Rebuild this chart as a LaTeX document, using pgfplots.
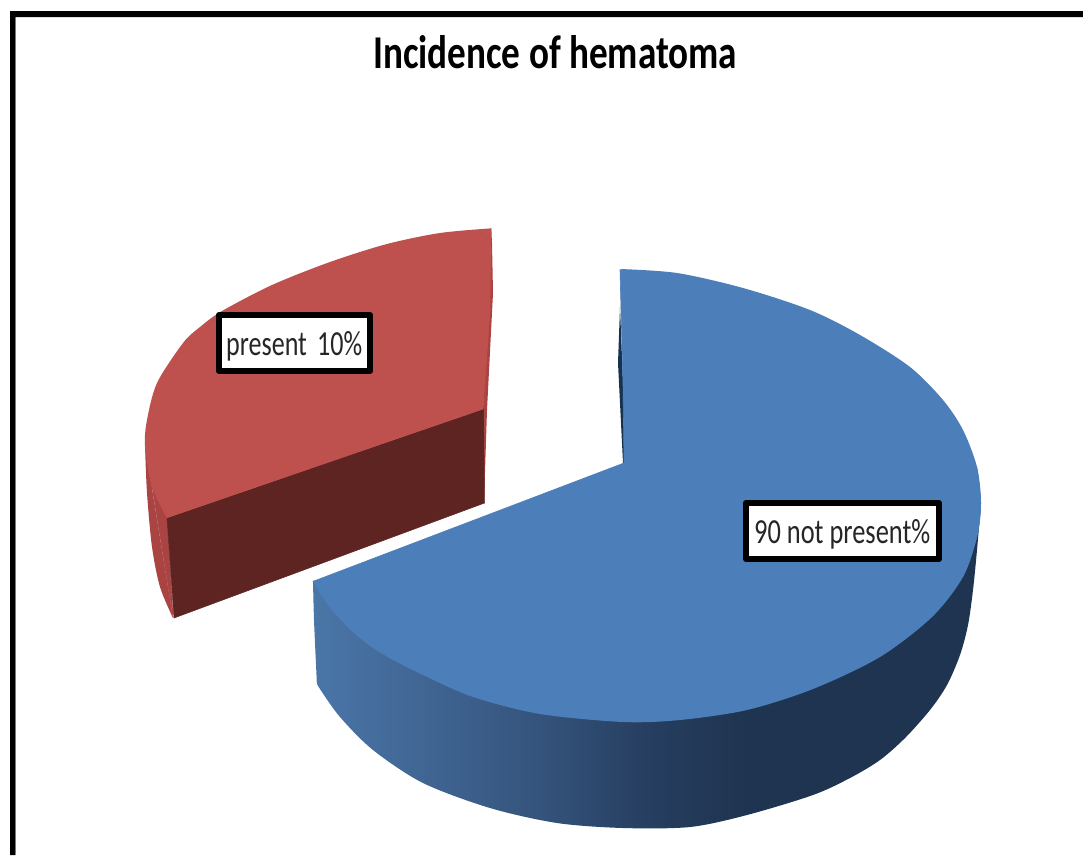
\documentclass[border=0pt]{standalone}
\usepackage{fontspec}
\setmainfont{Carlito}
\usepackage{graphicx}
\usepackage{pgfplots}
\pgfplotsset{compat=1.18}
\definecolor{bluetop}{RGB}{76,126,186}
\definecolor{redtop}{RGB}{190,80,77}
\definecolor{redside}{RGB}{170,68,66}
\definecolor{reddark}{RGB}{93,36,33}
\definecolor{bluein}{RGB}{22,50,80}
\definecolor{bsa}{RGB}{74,118,168}
\definecolor{bsb}{RGB}{62,98,143}
\definecolor{bsc}{RGB}{52,82,122}
\definecolor{bsd}{RGB}{38,62,96}
\definecolor{bse}{RGB}{31,52,80}
\pgfdeclarehorizontalshading{blueside}{100bp}{color(0bp)=(bsa); color(25bp)=(bsa); color(35bp)=(bsb); color(42.5bp)=(bsc); color(50bp)=(bsd); color(57.5bp)=(bse); color(75bp)=(bse); color(100bp)=(bse)}
\begin{document}
\begin{tikzpicture}
\begin{axis}[
  hide axis, scale only axis, width=1083pt, height=855pt,
  xmin=0, xmax=1083, ymin=0, ymax=855, y dir=reverse]
% page
\addplot[draw=none, fill=white] coordinates {(0,0) (1083,0) (1083,855) (0,855)} -- cycle;
% frame
\addplot[draw=black!45, line width=1.5pt] coordinates {(15.5,855) (15.5,17)};
\addplot[draw=none, fill=black] coordinates {(10,855) (10,11) (1083,11) (1083,17) (15,17) (15,855)} -- cycle;
% red slice: outer wall
\addplot[draw=none, fill=redside, smooth] coordinates {(145,445) (147,493) (152,547) (160,587) (173,618)};
\addplot[draw=redside, line width=0.6pt, fill=redside] coordinates {(145.5,445) (173,617) (167,518) (152,487)} -- cycle;
% red slice: right sliver
\addplot[draw=none, fill=redside] coordinates {(491.7,228.3) (493,293) (487,410) (484,503) (483,410)} -- cycle;
% red slice: cut face
\addplot[draw=reddark, line width=0.5pt, fill=reddark] coordinates {(167,518) (483.5,409) (484.5,503) (174,618)} -- cycle;
% red slice: top
\addplot[draw=none, fill=redtop, smooth] coordinates {(491.7,228.3) (440,233) (387,244) (330,262) (272,285) (222,311) (200,327) (183,343) (157,383) (147,420) (145,447) (152,487) (167,518)};
\addplot[draw=redtop, line width=0.6pt, fill=redtop] coordinates {(491,229) (167.5,517.5) (483,409) (490,310)} -- cycle;
% blue slice: wall
\addplot[draw=none, shade, shading=blueside, smooth] coordinates {(313,581) (314,620) (316.5,675) (317,683) (320,689) (340,717) (373,750) (423,783) (490,808) (557,823) (623,828) (690,827) (747,815) (813,795) (850,778) (880,760) (905,738) (930,710) (947,685) (960,655) (968,625) (973,590) (977,550) (981,503)};
% blue slice: inner sliver
\addplot[draw=none, fill=bluein] coordinates {(620,307) (618,363) (623,463) (628,462) (623,383)} -- cycle;
% blue slice: top
\addplot[draw=none, fill=bluetop, smooth] coordinates {(620,269) (677,273) (743,288) (810,310) (860,335) (910,367) (943,400) (963,430) (977,467) (981,503) (977,537) (963,577)};
\addplot[draw=none, fill=bluetop, smooth] coordinates {(977,467) (981,503) (977,537) (963,577) (932,617) (880,657) (813,689) (747,710) (680,720) (623,722) (540,714) (473,697) (423,675) (395,661) (373,648) (355,634) (340,619) (325,601) (313,581)};
\addplot[draw=bluetop, line width=0.6pt, fill=bluetop] coordinates {(620,270) (976,467) (962,577) (314,581) (624,463) (623,383)} -- cycle;
% labels
\addplot[draw=black, fill=white, line width=6pt, line join=round] coordinates {(219,315) (370,315) (370,371) (219,371)} -- cycle;
\addplot[draw=black, fill=white, line width=6pt, line join=round] coordinates {(746,503) (939,503) (939,559) (746,559)} -- cycle;
\node[anchor=base west, inner sep=0pt, text=black!85] at (axis cs:226,355) {\resizebox{136pt}{24pt}{present\ \,10\%}};
\node[anchor=base west, inner sep=0pt, text=black!85] at (axis cs:754,543) {\resizebox{176pt}{24pt}{90 not present\%}};
\node[anchor=base west, inner sep=0pt] at (axis cs:373,68) {\resizebox{364pt}{33pt}{\bfseries Incidence of hematoma}};
\end{axis}
\end{tikzpicture}
\end{document}
